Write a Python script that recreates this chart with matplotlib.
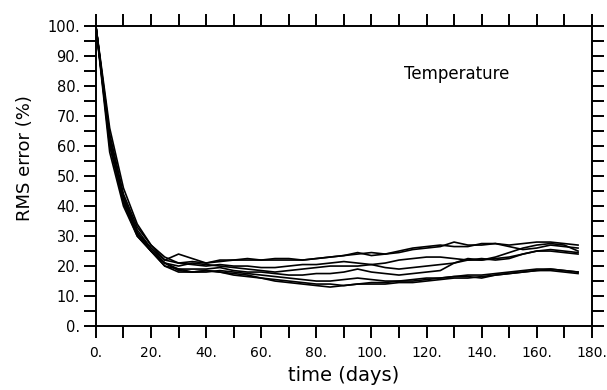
import numpy as np
import matplotlib
matplotlib.use("Agg")
import matplotlib.pyplot as plt

# days sampled every 5
days = np.arange(0, 180, 5)

# RMS error (%) for each ensemble member
run1 = [100, 66, 46, 34, 27, 23, 21, 21.5, 21, 22, 22, 22.5, 22, 22.5, 22.5, 22, 22.5, 23,
        23.5, 24, 24.5, 24, 24.5, 25.5, 26, 26.5, 28, 27, 27, 27.5, 27, 27.5, 28, 28, 27.5, 27]
run2 = [100, 64, 44, 33, 27, 22, 24, 22.5, 21, 21.5, 22, 22, 22, 22, 22, 22, 22.5, 23,
        23.5, 24.5, 23.5, 24, 25, 26, 26.5, 27, 26.5, 26.5, 27.5, 27.5, 26.5, 25.5, 26, 27, 26.5, 26]
run3 = [100, 63, 43, 32, 26, 22, 21, 20.5, 20, 20.5, 20, 20, 19.5, 19.5, 20, 20.5, 20.5, 21,
        21.5, 21, 20.5, 21, 22, 22.5, 23, 23, 22.5, 22, 22, 23, 24.5, 26, 27, 27.5, 27, 25]
run4 = [100, 62, 42, 31, 25, 21, 20, 21, 20.5, 20, 19.5, 19, 18.5, 18, 18.5, 19, 19.5, 20,
        20, 20, 20.5, 19.5, 19, 19.5, 20, 20.5, 21, 22, 22.5, 22, 22.5, 24, 25, 25, 24.5, 24]
run5 = [100, 60, 41, 30, 25, 20, 19, 19, 19, 19.5, 18.5, 18, 18, 17.5, 17, 17, 17.5, 17.5,
        18, 19, 18, 17.5, 17, 17.5, 18, 18.5, 21, 22.5, 22, 22.5, 23, 24, 25, 25.5, 25, 24.5]
run6 = [100, 58, 40, 30, 25, 21, 19, 18, 18, 18.5, 18, 17.5, 17, 16.5, 16, 15.5, 15, 15,
        15.5, 16, 15.5, 15, 15, 15, 15.5, 16, 16.5, 16.5, 16, 17, 17.5, 18, 18.5, 19, 18.5, 18]
run7 = [100, 62, 43, 31, 26, 21, 18.5, 18, 18.5, 18, 17.5, 17, 16, 15.5, 15, 14.5, 14, 14,
        13.5, 14, 14.5, 14.5, 15, 15.5, 16, 16, 16.5, 17, 17, 17.5, 18, 18.5, 19, 19, 18.5, 18]
run8 = [100, 61, 42, 31, 25, 20, 18, 18, 18.5, 18, 17, 16.5, 16, 15, 14.5, 14, 13.5, 13,
        13.5, 14, 14, 14, 14.5, 14.5, 15, 15.5, 16, 16, 16.5, 17, 17.5, 18, 18.5, 18.5, 18, 17.5]
runs = [run1, run2, run3, run4, run5, run6, run7, run8]

xticks = np.arange(0, 181, 20)
yticks = np.arange(0, 101, 10)

plt.rcParams["font.family"] = ["DejaVu Sans"]

fig = plt.figure(figsize=(6.07, 3.90), dpi=100)
ax = fig.add_axes([0.158, 0.164, 0.817, 0.769])

for r in runs:
    ax.plot(days, r, color="black", lw=1.2)

ax.set_xlim(0, 180)
ax.set_ylim(0, 100)
ax.set_xticks(xticks)
ax.set_xticklabels([f"{int(v)}." for v in xticks])
ax.set_yticks(yticks)
ax.set_yticklabels([f"{int(v)}." for v in yticks])
ax.set_xticks(np.arange(0, 181, 10), minor=True)
ax.set_yticks(np.arange(0, 101, 5), minor=True)

for s in ax.spines.values():
    s.set_linewidth(1.4)
ax.tick_params(which="both", direction="out", length=8.5, width=1.4,
               top=True, right=True)
ax.tick_params(axis="x", pad=6, labelsize=10)
ax.tick_params(axis="y", pad=3, labelsize=10.5)

ax.set_xlabel("time (days)", fontsize=14, labelpad=4)
ax.set_ylabel("RMS error (%)", fontsize=13, labelpad=4)
ax.yaxis.set_label_coords(-0.125, 0.56)
ax.text(131, 84, "Temperature", fontsize=12, ha="center", va="center")

fig.savefig("out.png", dpi=100)
